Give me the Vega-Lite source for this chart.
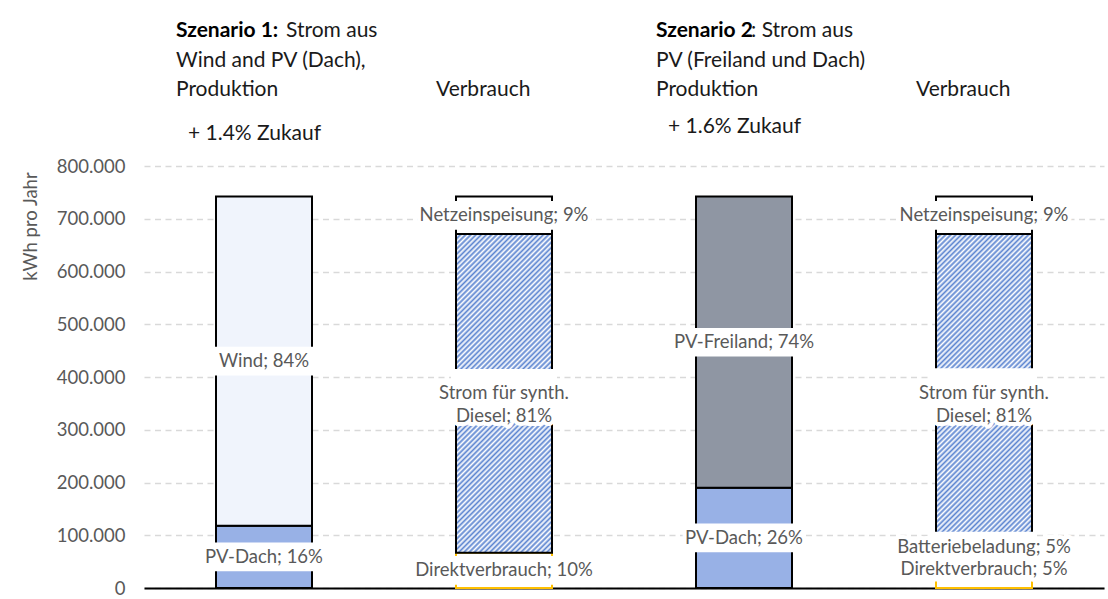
{
  "$schema": "https://vega.github.io/schema/vega-lite/v6.json",
  "width": 960,
  "height": 422,
  "autosize": {"type": "none"},
  "padding": {"left": 144, "top": 166, "right": 4, "bottom": 11},
  "background": "white",
  "config": {
    "view": {"stroke": null},
    "font": "Lato",
    "axisY": {
      "tickCount": 8, "labelExpr": "replace(datum.label, ',', '.')",
      "ticks": false, "domain": false, "labelPadding": 19,
      "labelFontSize": 18.5, "labelColor": "#595959", "labelFont": "Lato",
      "grid": true, "gridColor": "#d9d9d9", "gridDash": [6, 4.5], "gridWidth": 1.3,
      "titleFont": "Lato", "titleFontSize": 18.5, "titleFontWeight": "normal",
      "titleColor": "#595959", "titleX": -114, "titleY": 60, "titleAngle": 270,
      "titleAlign": "center", "titleBaseline": "middle"
    },
    "axisX": {"labels": false, "ticks": false, "domain": true, "domainColor": "#000000", "domainWidth": 2, "grid": false}
  },
  "datasets": {
    "bars": [
      {"bar": "S1P", "seg": "PV-Dach", "label": "PV-Dach; 16%", "value": 118000, "order": 1},
      {"bar": "S1P", "seg": "Wind", "label": "Wind; 84%", "value": 624000, "order": 2},
      {"bar": "S1V", "seg": "Direktverbrauch", "label": "Direktverbrauch; 10%", "value": 67000, "order": 1},
      {"bar": "S1V", "seg": "Strom", "label": "Strom für synth.\nDiesel; 81%", "value": 604000, "order": 2},
      {"bar": "S1V", "seg": "Netzeinspeisung", "label": "Netzeinspeisung; 9%", "value": 71000, "order": 3},
      {"bar": "S2P", "seg": "PV-Dach", "label": "PV-Dach; 26%", "value": 190000, "order": 1},
      {"bar": "S2P", "seg": "PV-Freiland", "label": "PV-Freiland; 74%", "value": 552000, "order": 2},
      {"bar": "S2V", "seg": "Direktverbrauch", "label": "Direktverbrauch; 5%", "value": 35000, "order": 1},
      {"bar": "S2V", "seg": "Batteriebeladung", "label": "Batteriebeladung; 5%", "value": 35000, "order": 2},
      {"bar": "S2V", "seg": "Strom", "label": "Strom für synth.\nDiesel; 81%", "value": 601000, "order": 3},
      {"bar": "S2V", "seg": "Netzeinspeisung", "label": "Netzeinspeisung; 9%", "value": 71000, "order": 4}
    ],
    "notes": [
      {"bar": "S1P", "kwh": 1056000, "txt": "Szenario 1:", "grp": "bold"},
      {"bar": "S1P", "kwh": 1056000, "txt": "Strom aus", "grp": "s1rest"},
      {"bar": "S1P", "kwh": 999000, "txt": "Wind  and PV (Dach),", "grp": "plain"},
      {"bar": "S1P", "kwh": 944000, "txt": "Produktion", "grp": "plain"},
      {"bar": "S1V", "kwh": 944000, "txt": "Verbrauch", "grp": "verb"},
      {"bar": "S1P", "kwh": 861000, "txt": "+ 1.4% Zukauf", "grp": "zukauf"},
      {"bar": "S2P", "kwh": 1056000, "txt": "Szenario 2", "grp": "bold"},
      {"bar": "S2P", "kwh": 1056000, "txt": ": Strom aus", "grp": "s2rest"},
      {"bar": "S2P", "kwh": 999000, "txt": "PV (Freiland und Dach)", "grp": "plain"},
      {"bar": "S2P", "kwh": 944000, "txt": "Produktion", "grp": "plain"},
      {"bar": "S2V", "kwh": 944000, "txt": "Verbrauch", "grp": "verb"},
      {"bar": "S2P", "kwh": 874000, "txt": "+ 1.6% Zukauf", "grp": "zukauf"}
    ]
  },
  "layer": [
    {
      "data": {"name": "bars"},
      "transform": [
        {"stack": "value", "groupby": ["bar"], "sort": [{"field": "order", "order": "ascending"}], "as": ["v0", "v1"]}
      ],
      "mark": {"type": "bar", "strokeWidth": 2},
      "encoding": {
        "x": {
          "field": "bar", "type": "nominal", "title": null,
          "scale": {"domain": ["S1P", "S1V", "S2P", "S2V"], "paddingInner": 0.6, "paddingOuter": 0.3}
        },
        "y": {
          "field": "v0", "type": "quantitative", "title": "kWh pro Jahr",
          "scale": {"domain": [0, 800000], "nice": false}
        },
        "y2": {"field": "v1"},
        "fill": {
          "condition": {
            "test": "datum.seg === 'Strom'",
            "value": {
              "gradient": "linear", "x1": 0, "y1": 0, "x2": 0.359, "y2": 1.192,
              "stops": [
                {"offset": 0, "color": "#5b84d0"}, {"offset": 0.00625, "color": "#ffffff"}, {"offset": 0.0125, "color": "#5b84d0"}, {"offset": 0.01875, "color": "#ffffff"},
                {"offset": 0.025, "color": "#5b84d0"}, {"offset": 0.03125, "color": "#ffffff"}, {"offset": 0.0375, "color": "#5b84d0"}, {"offset": 0.04375, "color": "#ffffff"},
                {"offset": 0.05, "color": "#5b84d0"}, {"offset": 0.05625, "color": "#ffffff"}, {"offset": 0.0625, "color": "#5b84d0"}, {"offset": 0.06875, "color": "#ffffff"},
                {"offset": 0.075, "color": "#5b84d0"}, {"offset": 0.08125, "color": "#ffffff"}, {"offset": 0.0875, "color": "#5b84d0"}, {"offset": 0.09375, "color": "#ffffff"},
                {"offset": 0.1, "color": "#5b84d0"}, {"offset": 0.10625, "color": "#ffffff"}, {"offset": 0.1125, "color": "#5b84d0"}, {"offset": 0.11875, "color": "#ffffff"},
                {"offset": 0.125, "color": "#5b84d0"}, {"offset": 0.13125, "color": "#ffffff"}, {"offset": 0.1375, "color": "#5b84d0"}, {"offset": 0.14375, "color": "#ffffff"},
                {"offset": 0.15, "color": "#5b84d0"}, {"offset": 0.15625, "color": "#ffffff"}, {"offset": 0.1625, "color": "#5b84d0"}, {"offset": 0.16875, "color": "#ffffff"},
                {"offset": 0.175, "color": "#5b84d0"}, {"offset": 0.18125, "color": "#ffffff"}, {"offset": 0.1875, "color": "#5b84d0"}, {"offset": 0.19375, "color": "#ffffff"},
                {"offset": 0.2, "color": "#5b84d0"}, {"offset": 0.20625, "color": "#ffffff"}, {"offset": 0.2125, "color": "#5b84d0"}, {"offset": 0.21875, "color": "#ffffff"},
                {"offset": 0.225, "color": "#5b84d0"}, {"offset": 0.23125, "color": "#ffffff"}, {"offset": 0.2375, "color": "#5b84d0"}, {"offset": 0.24375, "color": "#ffffff"},
                {"offset": 0.25, "color": "#5b84d0"}, {"offset": 0.25625, "color": "#ffffff"}, {"offset": 0.2625, "color": "#5b84d0"}, {"offset": 0.26875, "color": "#ffffff"},
                {"offset": 0.275, "color": "#5b84d0"}, {"offset": 0.28125, "color": "#ffffff"}, {"offset": 0.2875, "color": "#5b84d0"}, {"offset": 0.29375, "color": "#ffffff"},
                {"offset": 0.3, "color": "#5b84d0"}, {"offset": 0.30625, "color": "#ffffff"}, {"offset": 0.3125, "color": "#5b84d0"}, {"offset": 0.31875, "color": "#ffffff"},
                {"offset": 0.325, "color": "#5b84d0"}, {"offset": 0.33125, "color": "#ffffff"}, {"offset": 0.3375, "color": "#5b84d0"}, {"offset": 0.34375, "color": "#ffffff"},
                {"offset": 0.35, "color": "#5b84d0"}, {"offset": 0.35625, "color": "#ffffff"}, {"offset": 0.3625, "color": "#5b84d0"}, {"offset": 0.36875, "color": "#ffffff"},
                {"offset": 0.375, "color": "#5b84d0"}, {"offset": 0.38125, "color": "#ffffff"}, {"offset": 0.3875, "color": "#5b84d0"}, {"offset": 0.39375, "color": "#ffffff"},
                {"offset": 0.4, "color": "#5b84d0"}, {"offset": 0.40625, "color": "#ffffff"}, {"offset": 0.4125, "color": "#5b84d0"}, {"offset": 0.41875, "color": "#ffffff"},
                {"offset": 0.425, "color": "#5b84d0"}, {"offset": 0.43125, "color": "#ffffff"}, {"offset": 0.4375, "color": "#5b84d0"}, {"offset": 0.44375, "color": "#ffffff"},
                {"offset": 0.45, "color": "#5b84d0"}, {"offset": 0.45625, "color": "#ffffff"}, {"offset": 0.4625, "color": "#5b84d0"}, {"offset": 0.46875, "color": "#ffffff"},
                {"offset": 0.475, "color": "#5b84d0"}, {"offset": 0.48125, "color": "#ffffff"}, {"offset": 0.4875, "color": "#5b84d0"}, {"offset": 0.49375, "color": "#ffffff"},
                {"offset": 0.5, "color": "#5b84d0"}, {"offset": 0.50625, "color": "#ffffff"}, {"offset": 0.5125, "color": "#5b84d0"}, {"offset": 0.51875, "color": "#ffffff"},
                {"offset": 0.525, "color": "#5b84d0"}, {"offset": 0.53125, "color": "#ffffff"}, {"offset": 0.5375, "color": "#5b84d0"}, {"offset": 0.54375, "color": "#ffffff"},
                {"offset": 0.55, "color": "#5b84d0"}, {"offset": 0.55625, "color": "#ffffff"}, {"offset": 0.5625, "color": "#5b84d0"}, {"offset": 0.56875, "color": "#ffffff"},
                {"offset": 0.575, "color": "#5b84d0"}, {"offset": 0.58125, "color": "#ffffff"}, {"offset": 0.5875, "color": "#5b84d0"}, {"offset": 0.59375, "color": "#ffffff"},
                {"offset": 0.6, "color": "#5b84d0"}, {"offset": 0.60625, "color": "#ffffff"}, {"offset": 0.6125, "color": "#5b84d0"}, {"offset": 0.61875, "color": "#ffffff"},
                {"offset": 0.625, "color": "#5b84d0"}, {"offset": 0.63125, "color": "#ffffff"}, {"offset": 0.6375, "color": "#5b84d0"}, {"offset": 0.64375, "color": "#ffffff"},
                {"offset": 0.65, "color": "#5b84d0"}, {"offset": 0.65625, "color": "#ffffff"}, {"offset": 0.6625, "color": "#5b84d0"}, {"offset": 0.66875, "color": "#ffffff"},
                {"offset": 0.675, "color": "#5b84d0"}, {"offset": 0.68125, "color": "#ffffff"}, {"offset": 0.6875, "color": "#5b84d0"}, {"offset": 0.69375, "color": "#ffffff"},
                {"offset": 0.7, "color": "#5b84d0"}, {"offset": 0.70625, "color": "#ffffff"}, {"offset": 0.7125, "color": "#5b84d0"}, {"offset": 0.71875, "color": "#ffffff"},
                {"offset": 0.725, "color": "#5b84d0"}, {"offset": 0.73125, "color": "#ffffff"}, {"offset": 0.7375, "color": "#5b84d0"}, {"offset": 0.74375, "color": "#ffffff"},
                {"offset": 0.75, "color": "#5b84d0"}, {"offset": 0.75625, "color": "#ffffff"}, {"offset": 0.7625, "color": "#5b84d0"}, {"offset": 0.76875, "color": "#ffffff"},
                {"offset": 0.775, "color": "#5b84d0"}, {"offset": 0.78125, "color": "#ffffff"}, {"offset": 0.7875, "color": "#5b84d0"}, {"offset": 0.79375, "color": "#ffffff"},
                {"offset": 0.8, "color": "#5b84d0"}, {"offset": 0.80625, "color": "#ffffff"}, {"offset": 0.8125, "color": "#5b84d0"}, {"offset": 0.81875, "color": "#ffffff"},
                {"offset": 0.825, "color": "#5b84d0"}, {"offset": 0.83125, "color": "#ffffff"}, {"offset": 0.8375, "color": "#5b84d0"}, {"offset": 0.84375, "color": "#ffffff"},
                {"offset": 0.85, "color": "#5b84d0"}, {"offset": 0.85625, "color": "#ffffff"}, {"offset": 0.8625, "color": "#5b84d0"}, {"offset": 0.86875, "color": "#ffffff"},
                {"offset": 0.875, "color": "#5b84d0"}, {"offset": 0.88125, "color": "#ffffff"}, {"offset": 0.8875, "color": "#5b84d0"}, {"offset": 0.89375, "color": "#ffffff"},
                {"offset": 0.9, "color": "#5b84d0"}, {"offset": 0.90625, "color": "#ffffff"}, {"offset": 0.9125, "color": "#5b84d0"}, {"offset": 0.91875, "color": "#ffffff"},
                {"offset": 0.925, "color": "#5b84d0"}, {"offset": 0.93125, "color": "#ffffff"}, {"offset": 0.9375, "color": "#5b84d0"}, {"offset": 0.94375, "color": "#ffffff"},
                {"offset": 0.95, "color": "#5b84d0"}, {"offset": 0.95625, "color": "#ffffff"}, {"offset": 0.9625, "color": "#5b84d0"}, {"offset": 0.96875, "color": "#ffffff"},
                {"offset": 0.975, "color": "#5b84d0"}, {"offset": 0.98125, "color": "#ffffff"}, {"offset": 0.9875, "color": "#5b84d0"}, {"offset": 0.99375, "color": "#ffffff"},
                {"offset": 1, "color": "#5b84d0"}
              ]
            }
          },
          "field": "seg", "type": "nominal", "legend": null,
          "scale": {
            "domain": ["Wind", "PV-Dach", "PV-Freiland", "Strom", "Netzeinspeisung", "Direktverbrauch", "Batteriebeladung"],
            "range": ["#f0f4fc", "#98b1e6", "#8f96a3", "#afc3ec", "#ffffff", "#ffffff", "#ffffff"]
          }
        },
        "stroke": {
          "field": "seg", "type": "nominal", "legend": null,
          "scale": {
            "domain": ["Wind", "PV-Dach", "PV-Freiland", "Strom", "Netzeinspeisung", "Direktverbrauch", "Batteriebeladung"],
            "range": ["#000000", "#000000", "#000000", "#000000", "#000000", "#ffc000", "#7f7f7f"]
          }
        }
      }
    },
    {
      "data": {"name": "bars"},
      "transform": [
        {"stack": "value", "groupby": ["bar"], "sort": [{"field": "order", "order": "ascending"}], "as": ["v0", "v1"]},
        {"fold": ["v0", "v1"], "as": ["k", "edge"]},
        {"aggregate": [{"op": "mean", "field": "edge", "as": "mid"}], "groupby": ["bar", "seg", "label"]}
      ],
      "encoding": {
        "x": {"field": "bar", "type": "nominal", "title": null},
        "y": {"field": "mid", "type": "quantitative", "title": "kWh pro Jahr", "scale": {"domain": [0, 800000], "nice": false}},
        "text": {"field": "label"}
      },
      "layer": [
        {
          "transform": [{"filter": "!(datum.bar === 'S2V' && (datum.seg === 'Batteriebeladung' || datum.seg === 'Direktverbrauch'))"}],
          "mark": {"type": "text", "fontSize": 18.5, "color": "white", "stroke": "white", "strokeWidth": 8, "strokeJoin": "round", "lineBreak": "\n", "lineHeight": 23, "align": "center", "baseline": "middle"}
        },
        {
          "transform": [{"filter": "datum.bar === 'S2V' && datum.seg === 'Batteriebeladung'"}],
          "mark": {"type": "text", "dy": -13, "fontSize": 18.5, "color": "white", "stroke": "white", "strokeWidth": 8, "strokeJoin": "round", "align": "center", "baseline": "middle"}
        },
        {
          "transform": [{"filter": "datum.bar === 'S2V' && datum.seg === 'Direktverbrauch'"}],
          "mark": {"type": "text", "dy": -10, "fontSize": 18.5, "color": "white", "stroke": "white", "strokeWidth": 8, "strokeJoin": "round", "align": "center", "baseline": "middle"}
        },
        {
          "mark": {"type": "point", "filled": true, "color": "white", "fill": "white", "strokeWidth": 0, "opacity": 1, "size": 11236},
          "encoding": {
            "text": null,
            "shape": {
              "condition": [
                {"test": "datum.seg === 'Strom'", "value": "M-1,-0.46H1V0.46H-1Z"},
                {"test": "datum.bar === 'S2V' && datum.seg === 'Batteriebeladung'", "value": "M-1,-0.54H1V0.04H-1Z"},
                {"test": "datum.bar === 'S2V' && datum.seg === 'Direktverbrauch'", "value": "M-1,-0.43H1V0.05H-1Z"}
              ],
              "value": "M-1,-0.27H1V0.27H-1Z"
            }
          }
        },
        {
          "transform": [{"filter": "!(datum.bar === 'S2V' && (datum.seg === 'Batteriebeladung' || datum.seg === 'Direktverbrauch'))"}],
          "mark": {"type": "text", "fontSize": 18.5, "color": "#595959", "lineBreak": "\n", "lineHeight": 23, "align": "center", "baseline": "middle"}
        },
        {
          "transform": [{"filter": "datum.bar === 'S2V' && datum.seg === 'Batteriebeladung'"}],
          "mark": {"type": "text", "dy": -13, "fontSize": 18.5, "color": "#595959", "align": "center", "baseline": "middle"}
        },
        {
          "transform": [{"filter": "datum.bar === 'S2V' && datum.seg === 'Direktverbrauch'"}],
          "mark": {"type": "text", "dy": -10, "fontSize": 18.5, "color": "#595959", "align": "center", "baseline": "middle"}
        }
      ]
    },
    {
      "data": {"name": "notes"},
      "encoding": {
        "x": {"field": "bar", "type": "nominal", "title": null},
        "y": {"field": "kwh", "type": "quantitative", "title": "kWh pro Jahr", "scale": {"domain": [0, 800000], "nice": false}},
        "text": {"field": "txt"}
      },
      "layer": [
        {
          "transform": [{"filter": "datum.grp === 'bold'"}],
          "mark": {"type": "text", "dx": -88, "align": "left", "baseline": "middle", "fontSize": 21, "fontWeight": "bold", "color": "#000000"}
        },
        {
          "transform": [{"filter": "datum.grp === 'plain'"}],
          "mark": {"type": "text", "dx": -88, "align": "left", "baseline": "middle", "fontSize": 21, "color": "#1a1a1a"}
        },
        {
          "transform": [{"filter": "datum.grp === 's1rest'"}],
          "mark": {"type": "text", "dx": 22, "align": "left", "baseline": "middle", "fontSize": 21, "color": "#1a1a1a"}
        },
        {
          "transform": [{"filter": "datum.grp === 's2rest'"}],
          "mark": {"type": "text", "dx": 7, "align": "left", "baseline": "middle", "fontSize": 21, "color": "#1a1a1a"}
        },
        {
          "transform": [{"filter": "datum.grp === 'verb'"}],
          "mark": {"type": "text", "dx": -68, "align": "left", "baseline": "middle", "fontSize": 21, "color": "#1a1a1a"}
        },
        {
          "transform": [{"filter": "datum.grp === 'zukauf'"}],
          "mark": {"type": "text", "dx": -76, "align": "left", "baseline": "middle", "fontSize": 21, "color": "#1a1a1a"}
        }
      ]
    }
  ]
}
